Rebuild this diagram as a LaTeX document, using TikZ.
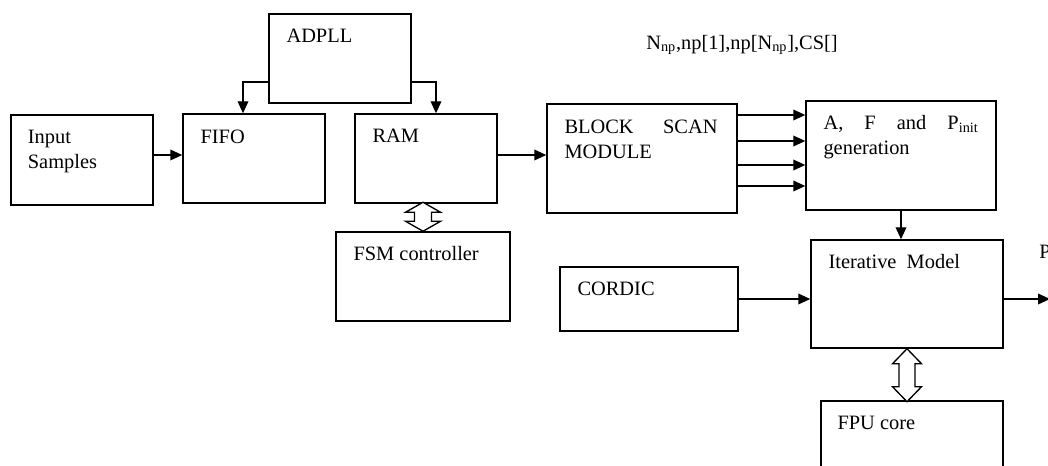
\documentclass[tikz,border=0pt]{standalone}
\usepackage{fontspec}
\setmainfont{Liberation Serif}
\usetikzlibrary{arrows.meta,calc,positioning}

\newlength{\pxu}
\setlength{\pxu}{0.75pt}

\tikzset{
  blk/.style={draw, line width=1.1pt, rectangle, inner sep=0pt},
  lbl/.style={inner sep=0pt, align=left, anchor=north west},
  flow/.style={line width=1.1pt, -{Triangle[length=9pt,width=8pt]}},
  hollow/.style={draw, line width=1pt, fill=white, line join=miter},
}

\begin{document}
\begin{tikzpicture}[x=0.75pt, y=-0.75pt, font=\fontsize{15.3}{18.75}\selectfont]
\useasboundingbox (0,0) rectangle (1048,466);

% boxes
\node[blk, minimum width=142\pxu, minimum height=90\pxu] (input) at (82,160) {};
\node[blk, minimum width=142\pxu, minimum height=89\pxu] (fifo) at (254,158.5) {};
\node[blk, minimum width=142\pxu, minimum height=89\pxu] (adpll) at (340,58.5) {};
\node[blk, minimum width=142\pxu, minimum height=89\pxu] (ram) at (426,158.5) {};
\node[blk, minimum width=174\pxu, minimum height=89\pxu] (fsm) at (423,276.5) {};
\node[blk, minimum width=190\pxu, minimum height=109\pxu] (scan) at (642,158.5) {};
\node[blk, minimum width=190\pxu, minimum height=109\pxu] (gen) at (901,155.5) {};
\node[blk, minimum width=178\pxu, minimum height=64\pxu] (cordic) at (649,299) {};
\node[blk, minimum width=192\pxu, minimum height=108\pxu] (iter) at (907,294) {};
\node[blk, minimum width=182\pxu, minimum height=69\pxu] (fpu) at (912,435.5) {};

% box texts
\node[lbl, below right=12pt and 13pt of input.north west] (input-t) {Input\\Samples};
\node[lbl, below right=12pt and 13.5pt of fifo.north west] (fifo-t) {FIFO};
\node[lbl, below right=12pt and 13.5pt of adpll.north west] (adpll-t) {ADPLL};
\node[lbl, below right=12pt and 13.5pt of ram.north west] (ram-t) {RAM};
\node[lbl, below right=11.25pt and 13.5pt of fsm.north west] (fsm-t) {FSM controller};
\node[lbl, below right=11.25pt and 13.5pt of cordic.north west] (cordic-t) {CORDIC};
\node[lbl, text width=153\pxu, below right=12pt and 13.5pt of scan.north west] (scan-t)
  {BLOCK\hfill SCAN\\MODULE};
\node[lbl, text width=155\pxu, below right=11.25pt and 13.5pt of gen.north west] (gen-t)
  {A,\hfill F\hfill and\hfill P\textsubscript{init}\\generation};
\node[lbl, below right=11.25pt and 13.5pt of iter.north west] (iter-t) {Iterative\ \ Model};
\node[lbl, below right=12pt and 12.75pt of fpu.north west] (fpu-t) {FPU core};

\node (params) at (742,45) {N\textsubscript{np},np[1],np[N\textsubscript{np}],CS[]};
\node[lbl] (pout) at (1039,245) {P};
\coordinate (out) at (1050,299);

% connector start points
\coordinate (input-o) at ($(input.east)+(0,-5)$);
\coordinate (ram-o) at ($(ram.east)+(0,-3.5)$);

% connectors
\draw[flow] (input-o) -- (input-o -| fifo.west);
\draw[flow] ($(adpll.west)+(0,23.5)$) -| ($(fifo.north)+(-11,0)$);
\draw[flow] ($(adpll.east)+(0,23.5)$) -| ($(ram.north)+(10,0)$);
\draw[flow] (ram-o) -- (ram-o -| scan.west);
\foreach \yy in {115,141,165,186}{
\draw[flow] (scan.east |- 0,\yy) -- (gen.west |- 0,\yy);}
\draw[flow] (gen.south) -- (gen.south |- iter.north);
\draw[flow] (cordic.east) -- (cordic.east -| iter.west);
\draw[flow] ($(iter.east)+(0,5)$) -- (out);

% two-way buses
\draw[hollow] (fsm.north) -- ++(-17.5,-10) -- ++(9,0) -- ++(0,-9) -- ++(-9,0)
  -- ++(17.5,-10) -- ++(17.5,10) -- ++(-9,0) -- ++(0,9) -- ++(9,0) -- cycle;
\draw[hollow] (iter.south) -- ++(14.5,15) -- ++(-6.5,0) -- ++(0,23) -- ++(6.5,0)
  -- ++(-14.5,15) -- ++(-14.5,-15) -- ++(6.5,0) -- ++(0,-23) -- ++(-6.5,0) -- cycle;
\end{tikzpicture}
\end{document}
